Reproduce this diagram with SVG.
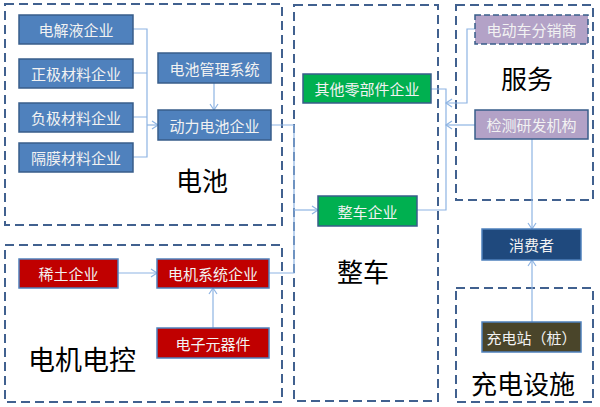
<svg xmlns="http://www.w3.org/2000/svg" width="600" height="407" viewBox="0 0 600 407">
<defs>
<marker id="ah" markerWidth="10" markerHeight="10" refX="8" refY="5" orient="auto" markerUnits="userSpaceOnUse">
<path d="M2,1 L8,5 L2,9" fill="none" stroke="#8EB4E3" stroke-width="1.2"/>
</marker>
<style>
.panel{fill:#fff;stroke:#41618F;stroke-width:2;stroke-dasharray:9 5}
.box text{font-family:"Noto Sans CJK SC","Noto Sans",sans-serif;font-size:15px;fill:#F2F2F2;text-anchor:middle;dominant-baseline:central}
.blue{fill:#4F81BD;stroke:#385D8A;stroke-width:1.5}
.purple{fill:#B3A2C7;stroke:#385D8A;stroke-width:1.5}
.green{fill:#00B050;stroke:#385D8A;stroke-width:1.5}
.red{fill:#C00000;stroke:#4F81BD;stroke-width:1.5}
.navy{fill:#1F497D;stroke:#4F81BD;stroke-width:1.5}
.olive{fill:#4A452A;stroke:#4F81BD;stroke-width:1.5}
.label{font-family:"Noto Sans CJK SC","Noto Sans",sans-serif;font-size:26px;fill:#000;text-anchor:middle;dominant-baseline:central}
.conn{fill:none;stroke:#8EB4E3;stroke-width:1.2}
</style>
</defs>
<rect width="600" height="407" fill="#fff"/>
<g id="panels">
<rect class="panel" x="5" y="4" width="277" height="221"/>
<rect class="panel" x="5" y="245" width="277" height="157"/>
<rect class="panel" x="294" y="5" width="144" height="396"/>
<rect class="panel" x="456" y="5" width="137" height="195"/>
<rect class="panel" x="456" y="288" width="137" height="114"/>
<text class="label" x="202" y="179">电池</text>
<text class="label" x="82" y="358" style="font-size:27px">电机电控</text>
<text class="label" x="363" y="270">整车</text>
<text class="label" x="527" y="77">服务</text>
<text class="label" x="523" y="382">充电设施</text>
</g>
<g id="connectors">
<path class="conn" d="M133,29 H147 V157 H133 M133,73 H147 M133,117 H147"/>
<path class="conn" d="M147,125 H158" marker-end="url(#ah)"/>
<path class="conn" d="M214,83 V110" marker-end="url(#ah)"/>
<path class="conn" d="M271,125 H294 V273 H269"/>
<path class="conn" d="M294,210 H318" marker-end="url(#ah)"/>
<path class="conn" d="M118,273 H157" marker-end="url(#ah)"/>
<path class="conn" d="M213,328 V288" marker-end="url(#ah)"/>
<path class="conn" d="M431,89 H446 V210 H417"/>
<path class="conn" d="M475,29 H467 V103 H446" marker-end="url(#ah)"/>
<path class="conn" d="M475,125 H446" marker-end="url(#ah)"/>
<path class="conn" d="M532,139 V229" marker-end="url(#ah)"/>
<path class="conn" d="M532,322 V260" marker-end="url(#ah)"/>
</g>
<g id="n1" class="box"><rect class="blue" x="19" y="15" width="114" height="29"/><text x="76" y="29.5">电解液企业</text></g>
<g id="n2" class="box"><rect class="blue" x="19" y="59" width="114" height="29"/><text x="76" y="73.5">正极材料企业</text></g>
<g id="n3" class="box"><rect class="blue" x="19" y="103" width="114" height="29"/><text x="76" y="117.5">负极材料企业</text></g>
<g id="n4" class="box"><rect class="blue" x="19" y="143" width="114" height="29"/><text x="76" y="157.5">隔膜材料企业</text></g>
<g id="n5" class="box"><rect class="blue" x="158" y="53" width="113" height="30"/><text x="214.5" y="68">电池管理系统</text></g>
<g id="n6" class="box"><rect class="blue" x="158" y="110" width="113" height="30"/><text x="214.5" y="125">动力电池企业</text></g>
<g id="n7" class="box"><rect class="red" x="19" y="259" width="99" height="29"/><text x="68.5" y="273.5">稀土企业</text></g>
<g id="n8" class="box"><rect class="red" x="157" y="259" width="112" height="29"/><text x="213" y="273.5">电机系统企业</text></g>
<g id="n9" class="box"><rect class="red" x="157" y="328" width="112" height="30"/><text x="213" y="343">电子元器件</text></g>
<g id="n10" class="box"><rect class="green" x="303" y="74" width="128" height="29"/><text x="367" y="88.5">其他零部件企业</text></g>
<g id="n11" class="box"><rect class="green" x="318" y="196" width="99" height="30"/><text x="367.5" y="211">整车企业</text></g>
<g id="n12" class="box"><rect class="purple" x="475" y="15" width="113" height="29" stroke-dasharray="6 3"/><text x="531.5" y="29.5">电动车分销商</text></g>
<g id="n13" class="box"><rect class="purple" x="475" y="110" width="113" height="29"/><text x="531.5" y="124.5">检测研发机构</text></g>
<g id="n14" class="box"><rect class="navy" x="482" y="229" width="99" height="31"/><text x="531.5" y="244.5">消费者</text></g>
<g id="n15" class="box"><rect class="olive" x="482" y="322" width="99" height="30"/><text x="531.5" y="337">充电站（桩）</text></g>
</svg>
